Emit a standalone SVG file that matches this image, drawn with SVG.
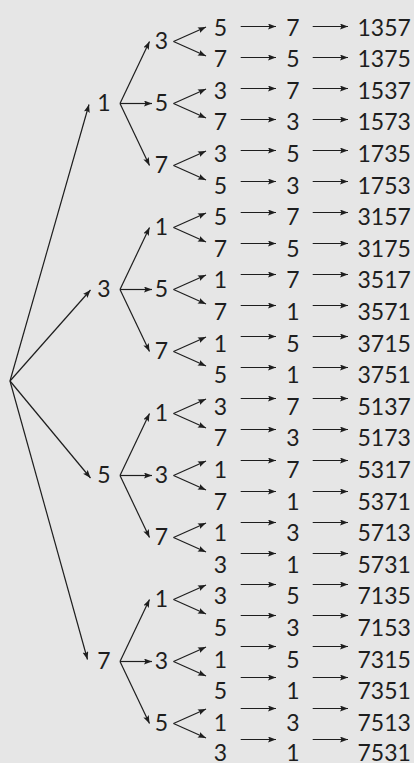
<svg xmlns="http://www.w3.org/2000/svg" width="414" height="763" viewBox="0 0 414 763">
<defs>
<marker id="ah" markerUnits="userSpaceOnUse" markerWidth="9" markerHeight="7" refX="8" refY="3" orient="auto">
<path d="M0,0 L8,3 L0,6 L1.5,3 z" fill="#1e1e1e"/>
</marker>
<style>
text{font-family:Lato,"Open Sans","DejaVu Sans",sans-serif;font-size:23px;fill:#1e1e1e}
.m{text-anchor:middle}
.n{text-anchor:start}
#connectors line{stroke:#1e1e1e;stroke-width:1.2;marker-end:url(#ah)}
</style>
</defs>
<rect width="414" height="763" fill="#e6e6e6"/>
<g id="connectors">
<line x1="10" y1="381" x2="89" y2="104.5"/>
<line x1="10" y1="381" x2="90.5" y2="290"/>
<line x1="10" y1="381" x2="90.5" y2="478"/>
<line x1="10" y1="381" x2="87.5" y2="659.5"/>
<line x1="120" y1="103.5" x2="149.5" y2="41.5"/>
<line x1="120" y1="103.5" x2="152" y2="103.5"/>
<line x1="120" y1="103.5" x2="149.5" y2="165.5"/>
<line x1="120" y1="289.5" x2="149.5" y2="227.5"/>
<line x1="120" y1="289.5" x2="152" y2="289.5"/>
<line x1="120" y1="289.5" x2="149.5" y2="351.5"/>
<line x1="120" y1="475.5" x2="149.5" y2="413.5"/>
<line x1="120" y1="475.5" x2="152" y2="475.5"/>
<line x1="120" y1="475.5" x2="149.5" y2="537.5"/>
<line x1="120" y1="661.5" x2="149.5" y2="599.5"/>
<line x1="120" y1="661.5" x2="152" y2="661.5"/>
<line x1="120" y1="661.5" x2="149.5" y2="723.5"/>
<line x1="173.5" y1="41.5" x2="206" y2="27"/><line x1="173.5" y1="41.5" x2="206" y2="56"/>
<line x1="173.5" y1="103.5" x2="206" y2="89"/><line x1="173.5" y1="103.5" x2="206" y2="118"/>
<line x1="173.5" y1="165.5" x2="206" y2="151"/><line x1="173.5" y1="165.5" x2="206" y2="180"/>
<line x1="173.5" y1="227.5" x2="206" y2="213"/><line x1="173.5" y1="227.5" x2="206" y2="242"/>
<line x1="173.5" y1="289.5" x2="206" y2="275"/><line x1="173.5" y1="289.5" x2="206" y2="304"/>
<line x1="173.5" y1="351.5" x2="206" y2="337"/><line x1="173.5" y1="351.5" x2="206" y2="366"/>
<line x1="173.5" y1="413.5" x2="206" y2="399"/><line x1="173.5" y1="413.5" x2="206" y2="428"/>
<line x1="173.5" y1="475.5" x2="206" y2="461"/><line x1="173.5" y1="475.5" x2="206" y2="490"/>
<line x1="173.5" y1="537.5" x2="206" y2="523"/><line x1="173.5" y1="537.5" x2="206" y2="552"/>
<line x1="173.5" y1="599.5" x2="206" y2="585"/><line x1="173.5" y1="599.5" x2="206" y2="614"/>
<line x1="173.5" y1="661.5" x2="206" y2="647"/><line x1="173.5" y1="661.5" x2="206" y2="676"/>
<line x1="173.5" y1="723.5" x2="206" y2="709"/><line x1="173.5" y1="723.5" x2="206" y2="738"/>
<line x1="240.7" y1="26.5" x2="276" y2="26.5"/><line x1="312.7" y1="26.5" x2="348" y2="26.5"/>
<line x1="240.7" y1="57.5" x2="276" y2="57.5"/><line x1="312.7" y1="57.5" x2="348" y2="57.5"/>
<line x1="240.7" y1="88.5" x2="276" y2="88.5"/><line x1="312.7" y1="88.5" x2="348" y2="88.5"/>
<line x1="240.7" y1="119.5" x2="276" y2="119.5"/><line x1="312.7" y1="119.5" x2="348" y2="119.5"/>
<line x1="240.7" y1="150.5" x2="276" y2="150.5"/><line x1="312.7" y1="150.5" x2="348" y2="150.5"/>
<line x1="240.7" y1="181.5" x2="276" y2="181.5"/><line x1="312.7" y1="181.5" x2="348" y2="181.5"/>
<line x1="240.7" y1="212.5" x2="276" y2="212.5"/><line x1="312.7" y1="212.5" x2="348" y2="212.5"/>
<line x1="240.7" y1="243.5" x2="276" y2="243.5"/><line x1="312.7" y1="243.5" x2="348" y2="243.5"/>
<line x1="240.7" y1="274.5" x2="276" y2="274.5"/><line x1="312.7" y1="274.5" x2="348" y2="274.5"/>
<line x1="240.7" y1="305.5" x2="276" y2="305.5"/><line x1="312.7" y1="305.5" x2="348" y2="305.5"/>
<line x1="240.7" y1="336.5" x2="276" y2="336.5"/><line x1="312.7" y1="336.5" x2="348" y2="336.5"/>
<line x1="240.7" y1="367.5" x2="276" y2="367.5"/><line x1="312.7" y1="367.5" x2="348" y2="367.5"/>
<line x1="240.7" y1="398.5" x2="276" y2="398.5"/><line x1="312.7" y1="398.5" x2="348" y2="398.5"/>
<line x1="240.7" y1="429.5" x2="276" y2="429.5"/><line x1="312.7" y1="429.5" x2="348" y2="429.5"/>
<line x1="240.7" y1="460.5" x2="276" y2="460.5"/><line x1="312.7" y1="460.5" x2="348" y2="460.5"/>
<line x1="240.7" y1="491.5" x2="276" y2="491.5"/><line x1="312.7" y1="491.5" x2="348" y2="491.5"/>
<line x1="240.7" y1="522.5" x2="276" y2="522.5"/><line x1="312.7" y1="522.5" x2="348" y2="522.5"/>
<line x1="240.7" y1="553.5" x2="276" y2="553.5"/><line x1="312.7" y1="553.5" x2="348" y2="553.5"/>
<line x1="240.7" y1="584.5" x2="276" y2="584.5"/><line x1="312.7" y1="584.5" x2="348" y2="584.5"/>
<line x1="240.7" y1="615.5" x2="276" y2="615.5"/><line x1="312.7" y1="615.5" x2="348" y2="615.5"/>
<line x1="240.7" y1="646.5" x2="276" y2="646.5"/><line x1="312.7" y1="646.5" x2="348" y2="646.5"/>
<line x1="240.7" y1="677.5" x2="276" y2="677.5"/><line x1="312.7" y1="677.5" x2="348" y2="677.5"/>
<line x1="240.7" y1="708.5" x2="276" y2="708.5"/><line x1="312.7" y1="708.5" x2="348" y2="708.5"/>
<line x1="240.7" y1="739.5" x2="276" y2="739.5"/><line x1="312.7" y1="739.5" x2="348" y2="739.5"/>
</g>
<g id="level1">
<g id="n1"><text class="m" x="104" y="111">1</text></g>
<g id="n3"><text class="m" x="104" y="297">3</text></g>
<g id="n5"><text class="m" x="104" y="483">5</text></g>
<g id="n7"><text class="m" x="104" y="669">7</text></g>
</g>
<g id="level2">
<g id="n13"><text class="m" x="161.5" y="49">3</text></g>
<g id="n15"><text class="m" x="161.5" y="111">5</text></g>
<g id="n17"><text class="m" x="161.5" y="173">7</text></g>
<g id="n31"><text class="m" x="161.5" y="235">1</text></g>
<g id="n35"><text class="m" x="161.5" y="297">5</text></g>
<g id="n37"><text class="m" x="161.5" y="359">7</text></g>
<g id="n51"><text class="m" x="161.5" y="421">1</text></g>
<g id="n53"><text class="m" x="161.5" y="483">3</text></g>
<g id="n57"><text class="m" x="161.5" y="545">7</text></g>
<g id="n71"><text class="m" x="161.5" y="607">1</text></g>
<g id="n73"><text class="m" x="161.5" y="669">3</text></g>
<g id="n75"><text class="m" x="161.5" y="731">5</text></g>
</g>
<g id="leaves">
<g id="r1357"><text class="m" x="220.5" y="35.5">5</text><text class="m" x="292.8" y="35.5">7</text><text class="n" x="357.5" y="35.5">1357</text></g>
<g id="r1375"><text class="m" x="220.5" y="67.1">7</text><text class="m" x="292.8" y="67.1">5</text><text class="n" x="357.5" y="67.1">1375</text></g>
<g id="r1537"><text class="m" x="220.5" y="98.7">3</text><text class="m" x="292.8" y="98.7">7</text><text class="n" x="357.5" y="98.7">1537</text></g>
<g id="r1573"><text class="m" x="220.5" y="130.3">7</text><text class="m" x="292.8" y="130.3">3</text><text class="n" x="357.5" y="130.3">1573</text></g>
<g id="r1735"><text class="m" x="220.5" y="161.9">3</text><text class="m" x="292.8" y="161.9">5</text><text class="n" x="357.5" y="161.9">1735</text></g>
<g id="r1753"><text class="m" x="220.5" y="193.5">5</text><text class="m" x="292.8" y="193.5">3</text><text class="n" x="357.5" y="193.5">1753</text></g>
<g id="r3157"><text class="m" x="220.5" y="225.1">5</text><text class="m" x="292.8" y="225.1">7</text><text class="n" x="357.5" y="225.1">3157</text></g>
<g id="r3175"><text class="m" x="220.5" y="256.7">7</text><text class="m" x="292.8" y="256.7">5</text><text class="n" x="357.5" y="256.7">3175</text></g>
<g id="r3517"><text class="m" x="220.5" y="288.3">1</text><text class="m" x="292.8" y="288.3">7</text><text class="n" x="357.5" y="288.3">3517</text></g>
<g id="r3571"><text class="m" x="220.5" y="319.9">7</text><text class="m" x="292.8" y="319.9">1</text><text class="n" x="357.5" y="319.9">3571</text></g>
<g id="r3715"><text class="m" x="220.5" y="351.5">1</text><text class="m" x="292.8" y="351.5">5</text><text class="n" x="357.5" y="351.5">3715</text></g>
<g id="r3751"><text class="m" x="220.5" y="383.1">5</text><text class="m" x="292.8" y="383.1">1</text><text class="n" x="357.5" y="383.1">3751</text></g>
<g id="r5137"><text class="m" x="220.5" y="414.7">3</text><text class="m" x="292.8" y="414.7">7</text><text class="n" x="357.5" y="414.7">5137</text></g>
<g id="r5173"><text class="m" x="220.5" y="446.3">7</text><text class="m" x="292.8" y="446.3">3</text><text class="n" x="357.5" y="446.3">5173</text></g>
<g id="r5317"><text class="m" x="220.5" y="477.9">1</text><text class="m" x="292.8" y="477.9">7</text><text class="n" x="357.5" y="477.9">5317</text></g>
<g id="r5371"><text class="m" x="220.5" y="509.5">7</text><text class="m" x="292.8" y="509.5">1</text><text class="n" x="357.5" y="509.5">5371</text></g>
<g id="r5713"><text class="m" x="220.5" y="541.1">1</text><text class="m" x="292.8" y="541.1">3</text><text class="n" x="357.5" y="541.1">5713</text></g>
<g id="r5731"><text class="m" x="220.5" y="572.7">3</text><text class="m" x="292.8" y="572.7">1</text><text class="n" x="357.5" y="572.7">5731</text></g>
<g id="r7135"><text class="m" x="220.5" y="604.3">3</text><text class="m" x="292.8" y="604.3">5</text><text class="n" x="357.5" y="604.3">7135</text></g>
<g id="r7153"><text class="m" x="220.5" y="635.9">5</text><text class="m" x="292.8" y="635.9">3</text><text class="n" x="357.5" y="635.9">7153</text></g>
<g id="r7315"><text class="m" x="220.5" y="667.5">1</text><text class="m" x="292.8" y="667.5">5</text><text class="n" x="357.5" y="667.5">7315</text></g>
<g id="r7351"><text class="m" x="220.5" y="699.1">5</text><text class="m" x="292.8" y="699.1">1</text><text class="n" x="357.5" y="699.1">7351</text></g>
<g id="r7513"><text class="m" x="220.5" y="730.7">1</text><text class="m" x="292.8" y="730.7">3</text><text class="n" x="357.5" y="730.7">7513</text></g>
<g id="r7531"><text class="m" x="220.5" y="761">3</text><text class="m" x="292.8" y="761">1</text><text class="n" x="357.5" y="761">7531</text></g>
</g>
</svg>
